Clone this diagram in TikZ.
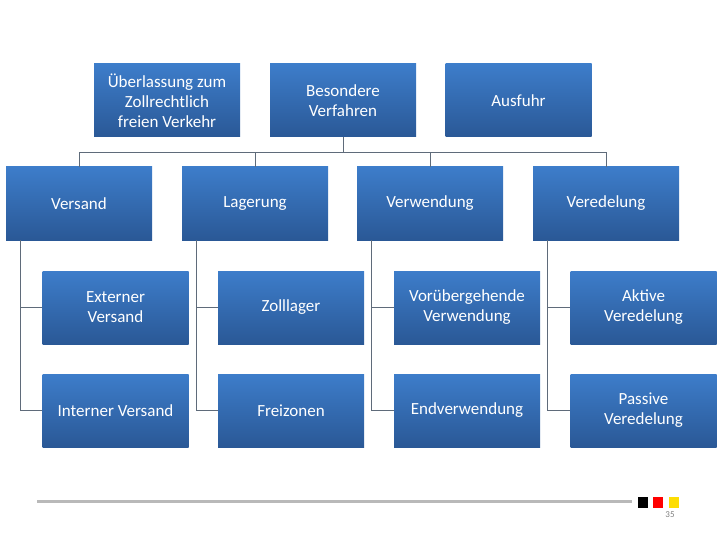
\documentclass[tikz,border=0pt]{standalone}
\usepackage{fontspec}
\setmainfont{Carlito}
\usetikzlibrary{positioning}
\definecolor{BoxTop}{HTML}{3D7DCA}
\definecolor{BoxBot}{HTML}{2A5896}
\definecolor{LineGray}{HTML}{5F6B7A}

\begin{document}
\begin{tikzpicture}[x=1pt, y=-1pt,
                    box/.style={minimum width=146pt, minimum height=73pt, inner sep=1pt,
                                top color=BoxTop, bottom color=BoxBot, text=white,
                                align=center, font=\fontsize{17}{20}\selectfont},
                    tree/.style={draw=LineGray, line width=0.9pt}]
  \useasboundingbox (0,0) rectangle (720,540);
  % top row
  \node[box] (freiv) at (167,100.5) {Überlassung zum\\ Zollrechtlich\\ freien Verkehr};
  \node[box] (besond) at (343,100.5) {Besondere\\ Verfahren};
  \node[box] (ausfuhr) at (518.5,100.5) {Ausfuhr};
  % second row
  \node[box] (versand) at (79,203.5) {Versand};
  \node[box] (lager) at (255,203.5) {Lagerung};
  \node[box] (verw) at (430,203.5) {Verwendung};
  \node[box] (vered) at (606,203.5) {Veredelung};
  % third row
  \node[box] (extv) at (115.5,307.5) {Externer\\ Versand};
  \node[box] (intv) at (115.5,410.5) {Interner Versand};
  \node[box] (zoll) at (291,307.5) {Zolllager};
  \node[box] (frei) at (291,410.5) {Freizonen};
  \node[box] (vorueb) at (467,307.5) {Vorübergehende\\ Verwendung};
  \node[box] (endv) at (467,410.5) {Endverwendung};
  \node[box] (aktiv) at (643.5,307.5) {Aktive\\ Veredelung};
  \node[box] (passiv) at (643.5,410.5) {Passive\\ Veredelung};
  % connectors
  \coordinate (bus) at (343,152);
  \draw[tree] (besond) -- (bus);
  \foreach \c in {versand,lager,verw,vered}
    \draw[tree] (bus) -| (\c.north);
  \foreach \p/\a/\b in {versand/extv/intv, lager/zoll/frei, verw/vorueb/endv, vered/aktiv/passiv} {
    \draw[tree] ([xshift=15pt]\p.south west) |- (\a.west);
    \draw[tree] ([xshift=15pt]\p.south west) |- (\b.west);
  }
  % footer
  \coordinate (fl) at (37,501);
  \coordinate (fr) at (632,501);
  \draw[line width=3pt, gray!55] (fl) -- (fr);
  \fill[black] (638,497) rectangle (648,508);
  \fill[red] (653,497) rectangle (663,508);
  \fill[yellow!80!orange] (669,497) rectangle (679,508);
  \node[text=gray, font=\fontsize{9}{10}\selectfont] (page) at (670,515) {35};
\end{tikzpicture}
\end{document}
